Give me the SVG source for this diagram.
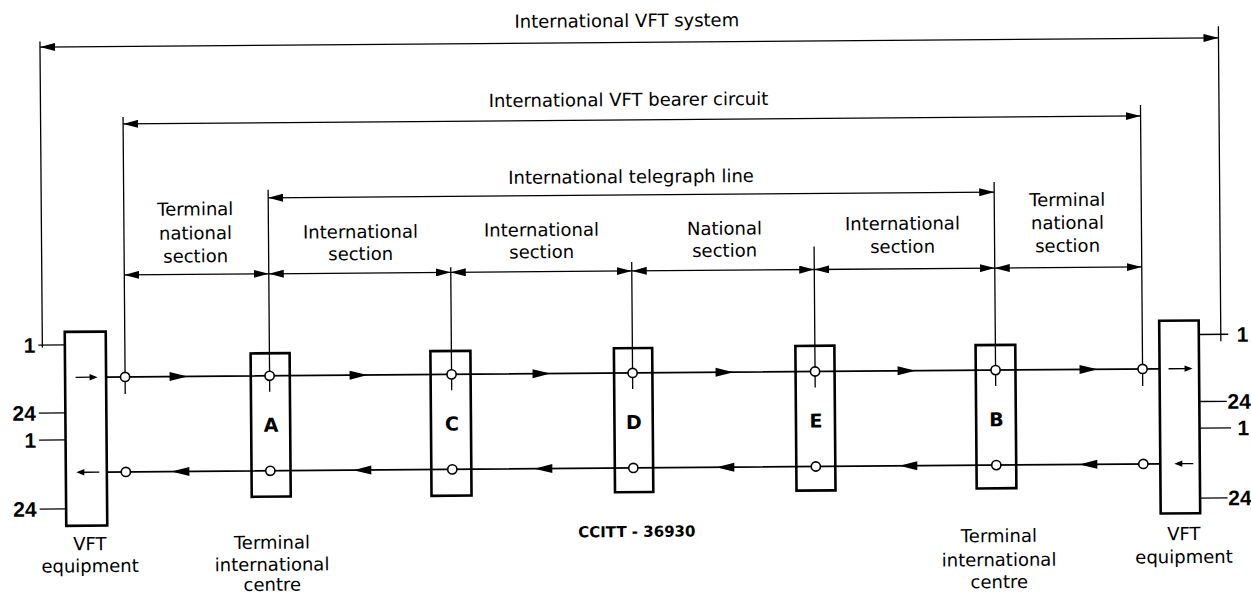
<svg xmlns="http://www.w3.org/2000/svg" width="1251" height="595" viewBox="0 0 1251 595">
<defs>
<marker id="dim" viewBox="-15 -4 15 8" refX="0" refY="0" markerWidth="15" markerHeight="8" markerUnits="userSpaceOnUse" orient="auto-start-reverse"><path d="M0,0 L-15,-4 L-15,4 Z" fill="#000"/></marker>
<path id="sa" d="M0,0 L-18,-4.5 L-18,4.5 Z" fill="#000"/>
<path id="ia" d="M0,0 L-8,-3.2 L-8,3.2 Z" fill="#000"/>
</defs>
<style>
.dim{stroke:#000;stroke-width:1.3;fill:none}
.dm{marker-start:url(#dim);marker-end:url(#dim)}
.sig{stroke:#000;stroke-width:1.7;fill:none}
.box{fill:none;stroke:#000;stroke-width:2.6}
.pt{fill:#fff;stroke:#000;stroke-width:1.6}
text{font-family:"DejaVu Sans","Liberation Sans",sans-serif;font-size:18px;fill:#000}
.lab{text-anchor:middle}
.let{font-weight:bold;text-anchor:middle;font-size:19px}
.pin{font-family:"Liberation Sans",Arial,sans-serif;font-weight:bold;font-size:21px}
.pe{text-anchor:end}
.code{font-weight:bold;font-size:15px;text-anchor:middle}
</style>
<rect width="1251" height="595" fill="#fff"/>
<g transform="rotate(-0.45 625 300)">
<g id="connectors">
  <!-- dimension lines -->
  <path class="dim dm" d="M42,42.5 H1220.5"/>
  <path class="dim dm" d="M124.5,120 H1142"/>
  <path class="dim dm" d="M269,195 H995"/>
  <path class="dim dm" d="M124.5,271 H269"/>
  <path class="dim dm" d="M269,271 H451"/>
  <path class="dim dm" d="M451,271 H632"/>
  <path class="dim dm" d="M632,271 H814.5"/>
  <path class="dim dm" d="M814.5,271 H995"/>
  <path class="dim dm" d="M995,271 H1142"/>
  <!-- vertical extension lines -->
  <path class="dim" d="M42,37 V343 M1220.5,31 V346 M124.5,113 V390 M1142,109 V390 M269,187 V389 M995,185 V389 M451,266 V389 M632,262 V389 M814.5,248 V389"/>
  <!-- pins -->
  <path class="dim" d="M38,340.5 H64.5 M38,408.5 H64.5 M38,435.5 H64.5 M38,504.5 H64.5"/>
  <path class="dim" d="M1198.5,339 H1228 M1198.5,406 H1226 M1198.5,432.6 H1230 M1198.5,502.6 H1226"/>
  <!-- signal lines -->
  <path class="sig" d="M105.5,373 H1159 M105.5,468 H1159"/>
  <use href="#sa" transform="translate(187,373)"/>
  <use href="#sa" transform="translate(367,373)"/>
  <use href="#sa" transform="translate(550,373)"/>
  <use href="#sa" transform="translate(733,373)"/>
  <use href="#sa" transform="translate(915,373)"/>
  <use href="#sa" transform="translate(1097,373)"/>
  <use href="#sa" transform="translate(170,468) rotate(180)"/>
  <use href="#sa" transform="translate(352,468) rotate(180)"/>
  <use href="#sa" transform="translate(533,468) rotate(180)"/>
  <use href="#sa" transform="translate(715,468) rotate(180)"/>
  <use href="#sa" transform="translate(898,468) rotate(180)"/>
  <use href="#sa" transform="translate(1078,468) rotate(180)"/>
  <!-- junction points -->
  <circle class="pt" cx="124.5" cy="373" r="4.6"/>
  <circle class="pt" cx="269" cy="373" r="4.6"/>
  <circle class="pt" cx="451" cy="373" r="4.6"/>
  <circle class="pt" cx="632" cy="373" r="4.6"/>
  <circle class="pt" cx="814.5" cy="373" r="4.6"/>
  <circle class="pt" cx="995" cy="373" r="4.6"/>
  <circle class="pt" cx="1142" cy="373" r="4.6"/>
  <circle class="pt" cx="124.5" cy="468" r="4.6"/>
  <circle class="pt" cx="269" cy="468" r="4.6"/>
  <circle class="pt" cx="451" cy="468" r="4.6"/>
  <circle class="pt" cx="632" cy="468" r="4.6"/>
  <circle class="pt" cx="814.5" cy="468" r="4.6"/>
  <circle class="pt" cx="995" cy="468" r="4.6"/>
  <circle class="pt" cx="1142" cy="468" r="4.6"/>
  <!-- dimension labels -->
  <text class="lab" x="629" y="27">International VFT system</text>
  <text class="lab" x="630" y="106">International VFT bearer circuit</text>
  <text class="lab" x="632" y="183">International telegraph line</text>
  <text class="lab" x="196" y="212">Terminal</text>
  <text class="lab" x="196" y="236">national</text>
  <text class="lab" x="196" y="259">section</text>
  <text class="lab" x="361" y="236">International</text>
  <text class="lab" x="361" y="258">section</text>
  <text class="lab" x="542" y="235.5">International</text>
  <text class="lab" x="542" y="257.5">section</text>
  <text class="lab" x="725" y="235.5">National</text>
  <text class="lab" x="725" y="257.5">section</text>
  <text class="lab" x="903" y="232">International</text>
  <text class="lab" x="903" y="255">section</text>
  <text class="lab" x="1068" y="209.5">Terminal</text>
  <text class="lab" x="1068" y="232.5">national</text>
  <text class="lab" x="1068" y="255.5">section</text>
  <!-- pin labels -->
  <text class="pin pe" x="35" y="348">1</text>
  <text class="pin pe" x="35" y="416">24</text>
  <text class="pin pe" x="35" y="443">1</text>
  <text class="pin pe" x="35" y="512">24</text>
  <text class="pin pe" x="1248" y="346.5">1</text>
  <text class="pin pe" x="1250" y="413.5">24</text>
  <text class="pin pe" x="1248" y="440">1</text>
  <text class="pin pe" x="1250" y="510">24</text>
</g>
<g id="vft-left">
  <rect class="box" x="64.5" y="327.5" width="41" height="194"/>
  <path class="dim" d="M75,373 H90"/><use href="#ia" transform="translate(97,373)"/>
  <path class="dim" d="M82,468 H98"/><use href="#ia" transform="translate(75,468) rotate(180)"/>
  <text class="lab" x="88" y="546">VFT</text>
  <text class="lab" x="88" y="568">equipment</text>
</g>
<g id="node-A">
  <rect class="box" x="250.2" y="350.5" width="39" height="143.4"/>
  <text class="let" x="270" y="429">A</text>
  <text class="lab" x="270" y="546">Terminal</text>
  <text class="lab" x="270" y="568">international</text>
  <text class="lab" x="270" y="588">centre</text>
</g>
<g id="node-C">
  <rect class="box" x="430" y="349.6" width="40" height="144.7"/>
  <text class="let" x="451" y="429">C</text>
</g>
<g id="node-D">
  <rect class="box" x="613.5" y="348.2" width="38.3" height="144"/>
  <text class="let" x="633" y="429">D</text>
</g>
<g id="node-E">
  <rect class="box" x="795" y="347.3" width="39" height="144.7"/>
  <text class="let" x="815" y="429">E</text>
</g>
<g id="node-B">
  <rect class="box" x="975.2" y="347.9" width="39.7" height="143.3"/>
  <text class="let" x="995.5" y="429">B</text>
  <text class="lab" x="997" y="545">Terminal</text>
  <text class="lab" x="997" y="569">international</text>
  <text class="lab" x="997" y="591">centre</text>
</g>
<g id="vft-right">
  <rect class="box" x="1159" y="325" width="39.5" height="192.7"/>
  <path class="dim" d="M1168,373 H1185"/><use href="#ia" transform="translate(1192,373)"/>
  <path class="dim" d="M1179,468 H1192"/><use href="#ia" transform="translate(1173,468) rotate(180)"/>
  <text class="lab" x="1182" y="544.5">VFT</text>
  <text class="lab" x="1182" y="567.5">equipment</text>
</g>
<g id="caption">
  <text class="code" x="635" y="537">CCITT - 36930</text>
</g>
</g>
</svg>
